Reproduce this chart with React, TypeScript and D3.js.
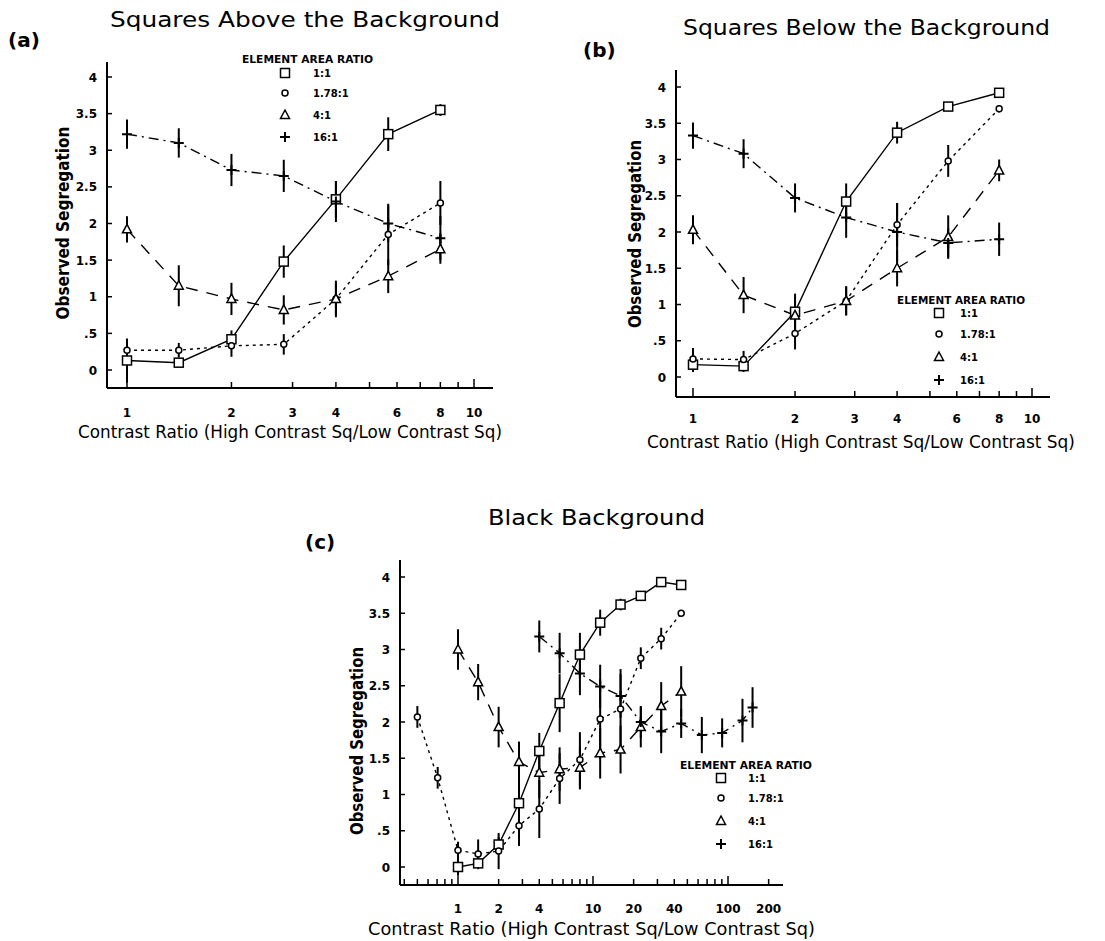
import React from "react";
import * as d3 from "d3";

// ---------- data ----------
const seriesNames = ["1:1", "1.78:1", "4:1", "16:1"];
const yTickValues = [0, 0.5, 1, 1.5, 2, 2.5, 3, 3.5, 4];
const yTickLabels = ["0", ".5", "1", "1.5", "2", "2.5", "3", "3.5", "4"];
const xTickLabelsAB = [1, 2, 3, 4, 6, 8, 10];
const xTickLabelsC = [1, 2, 4, 10, 20, 40, 100, 200];
const minorTicksAB = [1, 2, 3, 4, 5, 6, 7, 8, 9, 10];
const minorTicksC = [0.4, 0.5, 0.6, 0.7, 0.8, 0.9, 1, 2, 3, 4, 5, 6, 7, 8, 9, 10, 20, 30, 40, 50, 60, 70, 80, 90, 100, 200];

// Panel (a): squares above the background
const xA = [1, 1.41, 2, 2.83, 4, 5.66, 8];
const a11 = [0.13, 0.1, 0.42, 1.48, 2.33, 3.22, 3.55];
const a11Err = [0.3, 0.05, 0.12, 0.22, 0.25, 0.23, 0.08];
const a178 = [0.27, 0.27, 0.33, 0.35, 0.97, 1.85, 2.28];
const a178Err = [0.08, 0.1, 0.15, 0.14, 0.22, 0.42, 0.3];
const a4 = [1.92, 1.15, 0.97, 0.82, 0.97, 1.28, 1.65];
const a4Err = [0.18, 0.28, 0.22, 0.2, 0.25, 0.23, 0.2];
const a16 = [3.22, 3.1, 2.73, 2.65, 2.3, 2.0, 1.8];
const a16Err = [0.2, 0.2, 0.22, 0.22, 0.28, 0.25, 0.3];

// Panel (b): squares below the background
const xB = [1, 1.41, 2, 2.83, 4, 5.66, 8];
const b11 = [0.17, 0.15, 0.9, 2.42, 3.37, 3.73, 3.92];
const b11Err = [0.1, 0.08, 0.25, 0.25, 0.15, 0.05, 0.03];
const b178 = [0.25, 0.24, 0.6, 1.05, 2.1, 2.98, 3.7];
const b178Err = [0.15, 0.12, 0.22, 0.2, 0.3, 0.22, 0.05];
const b4 = [2.03, 1.13, 0.85, 1.05, 1.5, 1.93, 2.85];
const b4Err = [0.2, 0.25, 0.2, 0.2, 0.25, 0.3, 0.15];
const b16 = [3.33, 3.08, 2.47, 2.2, 2.0, 1.85, 1.9];
const b16Err = [0.18, 0.2, 0.2, 0.28, 0.4, 0.2, 0.23];

// Panel (c): black background
const xC11 = [1, 1.41, 2, 2.83, 4, 5.66, 8, 11.3, 16, 22.6, 32, 45];
const c11 = [0.0, 0.05, 0.31, 0.88, 1.6, 2.26, 2.93, 3.37, 3.62, 3.74, 3.93, 3.89];
const c11Err = [0.12, 0.08, 0.1, 0.4, 0.25, 0.4, 0.3, 0.18, 0.08, 0.06, 0.03, 0.03];
const xC178 = [0.5, 0.707, 1, 1.41, 2, 2.83, 4, 5.66, 8, 11.3, 16, 22.6, 32, 45];
const c178 = [2.07, 1.23, 0.23, 0.18, 0.22, 0.57, 0.8, 1.22, 1.48, 2.04, 2.18, 2.88, 3.15, 3.5];
const c178Err = [0.15, 0.15, 0.12, 0.2, 0.25, 0.28, 0.4, 0.35, 0.38, 0.55, 0.55, 0.15, 0.15, 0.03];
const xC4 = [1, 1.41, 2, 2.83, 4, 5.66, 8, 11.3, 16, 22.6, 32, 45];
const c4 = [3.0, 2.55, 1.93, 1.45, 1.3, 1.35, 1.37, 1.57, 1.62, 1.93, 2.22, 2.42];
const c4Err = [0.28, 0.25, 0.28, 0.28, 0.35, 0.3, 0.3, 0.35, 0.33, 0.28, 0.33, 0.35];
const xC16 = [4, 5.66, 8, 11.3, 16, 22.6, 32, 45, 64, 90.5, 128, 152];
const c16 = [3.18, 2.95, 2.67, 2.49, 2.36, 2.0, 1.87, 1.98, 1.82, 1.85, 2.02, 2.2];
const c16Err = [0.22, 0.28, 0.3, 0.3, 0.3, 0.22, 0.3, 0.2, 0.25, 0.2, 0.3, 0.28];

// ---------- styles ----------
const markerKinds = ["square", "circle", "triangle", "plus"];
const dashes = ["none", "3,4", "12,9", "10,5,2,5"];
const FONT = "'DejaVu Sans', sans-serif";

type Series = { xs: number[]; ys: number[]; errs: number[] };

function Marker({ kind, x, y }: { kind: string; x: number; y: number }) {
  const sw = 1.5;
  if (kind === "square")
    return <rect x={x - 4.5} y={y - 4.5} width={9} height={9} fill="white" stroke="black" strokeWidth={sw} />;
  if (kind === "circle") return <circle cx={x} cy={y} r={3} fill="white" stroke="black" strokeWidth={sw} />;
  if (kind === "triangle")
    return (
      <path
        d={`M${x},${y - 5}L${x + 4.5},${y + 3.5}L${x - 4.5},${y + 3.5}Z`}
        fill="white"
        stroke="black"
        strokeWidth={sw}
      />
    );
  return <path d={`M${x - 5},${y}H${x + 5}M${x},${y - 5}V${y + 5}`} stroke="black" strokeWidth={2} />;
}

type PanelCfg = {
  tag: string;
  tagX: number;
  tagY: number;
  title: string;
  titleX: number;
  titleY: number;
  titleLen: number;
  xDomain: [number, number];
  xRange: [number, number];
  axisX0: number;
  axisX1: number;
  axisY: number;
  yTopAxis: number;
  yRange: [number, number];
  majorTicks: number[];
  minorTicks: number[];
  tickLabelY: number;
  xLabelX: number;
  xLabelY: number;
  xLabelLen: number;
  yLabelX: number;
  yLabelY: number;
  yLabelLen: number;
  legTitleX: number;
  legTitleY: number;
  legTitleLen: number;
  legSymX: number;
  legTextX: number;
  legYs: number[];
  series: Series[];
};

function Panel({ c }: { c: PanelCfg }) {
  const x = d3.scaleLog().domain(c.xDomain).range(c.xRange);
  const y = d3.scaleLinear().domain([0, 4]).range(c.yRange);
  const line = d3
    .line<[number, number]>()
    .x((d) => x(d[0]))
    .y((d) => y(d[1]));
  const tickFmt = (v: number) => String(v);
  return (
    <g>
      <text x={c.tagX} y={c.tagY} fontFamily={FONT} fontWeight="bold" fontSize={20}>
        {c.tag}
      </text>
      <text
        x={c.titleX}
        y={c.titleY}
        fontFamily={FONT}
        fontSize={22}
        textLength={c.titleLen}
        lengthAdjust="spacingAndGlyphs"
      >
        {c.title}
      </text>
      {/* axes */}
      <line x1={c.axisX0} x2={c.axisX0} y1={c.yTopAxis} y2={c.axisY} stroke="black" strokeWidth={2} />
      <line x1={c.axisX0} x2={c.axisX1} y1={c.axisY} y2={c.axisY} stroke="black" strokeWidth={2} />
      {yTickValues.map((v, i) => (
        <g key={"yt" + i}>
          <line x1={c.axisX0} x2={c.axisX0 + 5} y1={y(v)} y2={y(v)} stroke="black" strokeWidth={1.5} />
          <text
            x={c.axisX0 - 10}
            y={y(v) + 4.5}
            textAnchor="end"
            fontFamily={FONT}
            fontWeight="bold"
            fontSize={12}
          >
            {yTickLabels[i]}
          </text>
        </g>
      ))}
      {c.minorTicks.map((v, i) => {
        const major = v === 1 || v === 10 || v === 100;
        return (
          <line
            key={"xt" + i}
            x1={x(v)}
            x2={x(v)}
            y1={c.axisY}
            y2={c.axisY - (major ? 9 : 6)}
            stroke="black"
            strokeWidth={1.5}
          />
        );
      })}
      {c.majorTicks.map((v, i) => (
        <text
          key={"xl" + i}
          x={x(v)}
          y={c.tickLabelY}
          textAnchor="middle"
          fontFamily={FONT}
          fontWeight="bold"
          fontSize={12}
        >
          {tickFmt(v)}
        </text>
      ))}
      <text
        x={c.xLabelX}
        y={c.xLabelY}
        fontFamily={FONT}
        fontSize={17}
        textLength={c.xLabelLen}
        lengthAdjust="spacingAndGlyphs"
      >
        Contrast Ratio (High Contrast Sq/Low Contrast Sq)
      </text>
      <text
        transform={`translate(${c.yLabelX},${c.yLabelY}) rotate(-90)`}
        textAnchor="middle"
        fontFamily={FONT}
        fontWeight="bold"
        fontSize={17}
        dy="0.35em"
        textLength={c.yLabelLen}
        lengthAdjust="spacingAndGlyphs"
      >
        Observed Segregation
      </text>
      {/* lines */}
      {c.series.map((s, si) => (
        <path
          key={"l" + si}
          d={line(s.xs.map((xv, i) => [xv, s.ys[i]] as [number, number])) || ""}
          fill="none"
          stroke="black"
          strokeWidth={1.4}
          strokeDasharray={dashes[si]}
        />
      ))}
      {/* error bars */}
      {c.series.map((s, si) =>
        s.xs.map((xv, i) => (
          <line
            key={"e" + si + "-" + i}
            x1={x(xv)}
            x2={x(xv)}
            y1={y(s.ys[i] - s.errs[i])}
            y2={y(s.ys[i] + s.errs[i])}
            stroke="black"
            strokeWidth={2}
          />
        ))
      )}
      {/* markers */}
      {c.series.map((s, si) =>
        s.xs.map((xv, i) => <Marker key={"m" + si + "-" + i} kind={markerKinds[si]} x={x(xv)} y={y(s.ys[i])} />)
      )}
      {/* legend */}
      <text
        x={c.legTitleX}
        y={c.legTitleY}
        fontFamily={FONT}
        fontWeight="bold"
        fontSize={10}
        textLength={c.legTitleLen}
        lengthAdjust="spacingAndGlyphs"
      >
        ELEMENT AREA RATIO
      </text>
      {seriesNames.map((n, i) => (
        <g key={"lg" + i}>
          <Marker kind={markerKinds[i]} x={c.legSymX} y={c.legYs[i]} />
          <text x={c.legTextX} y={c.legYs[i] + 4} fontFamily={FONT} fontWeight="bold" fontSize={10}>
            {n}
          </text>
        </g>
      ))}
    </g>
  );
}

const panels: PanelCfg[] = [
  {
    tag: "(a)",
    tagX: 8,
    tagY: 47,
    title: "Squares Above the Background",
    titleX: 110,
    titleY: 27,
    titleLen: 390,
    xDomain: [1, 10],
    xRange: [127, 474],
    axisX0: 107,
    axisX1: 493,
    axisY: 388,
    yTopAxis: 62,
    yRange: [370, 77],
    majorTicks: xTickLabelsAB,
    minorTicks: minorTicksAB,
    tickLabelY: 417,
    xLabelX: 78,
    xLabelY: 438,
    xLabelLen: 424,
    yLabelX: 63,
    yLabelY: 223,
    yLabelLen: 193,
    legTitleX: 242,
    legTitleY: 63,
    legTitleLen: 131,
    legSymX: 285,
    legTextX: 313,
    legYs: [73, 93, 115, 137],
    series: [
      { xs: xA, ys: a11, errs: a11Err },
      { xs: xA, ys: a178, errs: a178Err },
      { xs: xA, ys: a4, errs: a4Err },
      { xs: xA, ys: a16, errs: a16Err },
    ],
  },
  {
    tag: "(b)",
    tagX: 583,
    tagY: 57,
    title: "Squares Below the Background",
    titleX: 683,
    titleY: 35,
    titleLen: 367,
    xDomain: [1, 10],
    xRange: [693, 1032],
    axisX0: 676,
    axisX1: 1050,
    axisY: 397,
    yTopAxis: 70,
    yRange: [377, 87],
    majorTicks: xTickLabelsAB,
    minorTicks: minorTicksAB,
    tickLabelY: 423,
    xLabelX: 647,
    xLabelY: 448,
    xLabelLen: 428,
    yLabelX: 635,
    yLabelY: 234,
    yLabelLen: 188,
    legTitleX: 897,
    legTitleY: 304,
    legTitleLen: 128,
    legSymX: 939,
    legTextX: 960,
    legYs: [313, 334, 357, 380],
    series: [
      { xs: xB, ys: b11, errs: b11Err },
      { xs: xB, ys: b178, errs: b178Err },
      { xs: xB, ys: b4, errs: b4Err },
      { xs: xB, ys: b16, errs: b16Err },
    ],
  },
  {
    tag: "(c)",
    tagX: 305,
    tagY: 549,
    title: "Black Background",
    titleX: 488,
    titleY: 525,
    titleLen: 217,
    xDomain: [1, 100],
    xRange: [458, 728],
    axisX0: 400,
    axisX1: 783,
    axisY: 885,
    yTopAxis: 560,
    yRange: [867, 577],
    majorTicks: xTickLabelsC,
    minorTicks: minorTicksC,
    tickLabelY: 913,
    xLabelX: 368,
    xLabelY: 935,
    xLabelLen: 447,
    yLabelX: 357,
    yLabelY: 741,
    yLabelLen: 188,
    legTitleX: 680,
    legTitleY: 769,
    legTitleLen: 132,
    legSymX: 721,
    legTextX: 748,
    legYs: [778, 798, 821, 844],
    series: [
      { xs: xC11, ys: c11, errs: c11Err },
      { xs: xC178, ys: c178, errs: c178Err },
      { xs: xC4, ys: c4, errs: c4Err },
      { xs: xC16, ys: c16, errs: c16Err },
    ],
  },
];

export default function App() {
  return (
    <svg
      width={1105}
      height={941}
      style={{ position: "absolute", left: 0, top: 0, background: "white", display: "block" }}
    >
      <rect width={1105} height={941} fill="white" />
      {panels.map((p, i) => (
        <Panel key={i} c={p} />
      ))}
    </svg>
  );
}
